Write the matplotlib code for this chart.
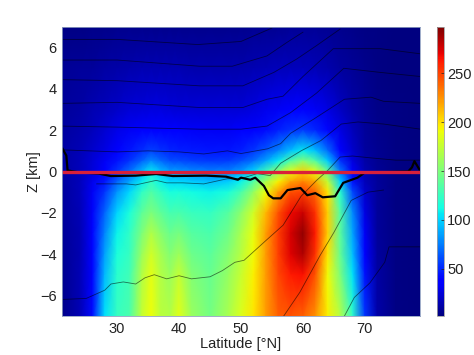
import numpy as np
import matplotlib
matplotlib.use('Agg')
import matplotlib.pyplot as plt

plt.rcParams['font.family'] = ['Liberation Sans', 'DejaVu Sans']

# field: rows = depth, columns = latitude
lat = [21, 24, 26, 28, 30, 32, 34, 35.5, 37, 38.5, 40, 42, 45, 48, 50, 52, 54, 56, 58, 60, 62, 64, 66, 68, 70, 72, 75, 79]
z = [7, 5, 3, 2, 1, 0.5, 0, -0.5, -1, -2, -3, -4, -5, -7]
field = np.array([
    [4, 4, 5, 5, 6, 6, 6, 6, 6, 6, 6, 6, 6, 6, 6, 7, 7, 7, 8, 8, 8, 7, 6, 5, 4, 4, 3, 3],
    [8, 9, 10, 12, 13, 14, 15, 15, 15, 15, 15, 14, 14, 14, 14, 15, 16, 17, 18, 18, 16, 14, 11, 8, 6, 4, 3, 3],
    [10, 12, 15, 18, 21, 24, 26, 27, 27, 26, 25, 25, 25, 25, 25, 27, 30, 33, 35, 36, 33, 28, 20, 13, 8, 5, 4, 3],
    [11, 14, 18, 23, 29, 33, 37, 39, 37, 36, 35, 34, 33, 33, 35, 38, 42, 48, 53, 56, 50, 41, 28, 17, 9, 6, 4, 3],
    [12, 16, 22, 28, 37, 45, 52, 58, 53, 50, 48, 46, 45, 45, 48, 55, 65, 78, 95, 108, 95, 70, 40, 22, 11, 7, 4, 3],
    [12, 17, 24, 32, 44, 55, 68, 80, 70, 63, 61, 58, 56, 57, 62, 72, 88, 108, 135, 155, 135, 98, 55, 27, 13, 7, 4, 3],
    [12, 18, 26, 38, 55, 72, 92, 108, 95, 86, 84, 80, 76, 78, 85, 102, 128, 158, 188, 205, 188, 142, 75, 34, 15, 8, 4, 3],
    [11, 18, 30, 45, 68, 88, 108, 122, 110, 102, 102, 98, 94, 98, 110, 135, 165, 195, 220, 230, 218, 175, 100, 45, 18, 9, 4, 3],
    [10, 17, 32, 55, 82, 102, 122, 134, 124, 114, 116, 112, 110, 116, 132, 158, 190, 222, 245, 250, 238, 198, 120, 60, 22, 9, 4, 3],
    [9, 16, 34, 68, 100, 115, 138, 150, 140, 130, 132, 126, 124, 136, 156, 180, 212, 245, 268, 278, 255, 205, 135, 80, 28, 10, 4, 3],
    [8, 15, 35, 78, 110, 122, 150, 168, 155, 143, 148, 136, 132, 146, 166, 188, 220, 250, 275, 292, 262, 205, 138, 88, 32, 10, 4, 3],
    [7, 15, 36, 85, 115, 125, 160, 180, 165, 152, 162, 144, 137, 153, 171, 192, 222, 250, 272, 285, 255, 198, 142, 95, 38, 11, 4, 3],
    [6, 16, 38, 92, 120, 128, 168, 187, 170, 160, 176, 152, 142, 159, 177, 195, 222, 248, 262, 265, 245, 192, 150, 105, 44, 12, 4, 3],
    [5, 16, 42, 104, 125, 132, 176, 190, 172, 168, 186, 160, 147, 166, 183, 198, 222, 240, 245, 240, 225, 195, 170, 122, 55, 13, 4, 3],
], dtype=float)

# thin contour lines, (latitude, depth) pairs
c1_lat = [21, 25, 28, 29, 31, 33, 34.5, 36, 38, 40, 42, 45, 47, 49, 50.5, 54, 56.8, 59.7, 62.2, 64, 66, 68, 71.3, 75, 79]
c1_z = [-6.2, -6.15, -5.75, -5.45, -5.35, -5.45, -5.15, -5.0, -5.2, -5.05, -5.2, -5.1, -4.8, -4.4, -4.3, -3.35, -2.6, -1.2, -0.43, 0.05, 0.7, 0.75, 0.65, 0.55, 0.55]
c2_lat = [26.7, 31.5, 33, 36.3, 38, 40.6, 44, 47.8, 50, 52.6, 54.7, 56.4, 59.7, 62.9, 66.2, 68.9, 73, 79]
c2_z = [-0.6, -0.6, -0.65, -0.43, -0.55, -0.55, -0.6, -0.35, -0.35, -0.1, -0.2, 0.4, 1.0, 1.5, 2.3, 2.4, 2.3, 2.05]
c3_lat = [21, 30, 35, 40, 44, 47.8, 50, 54.3, 56.4, 58, 61.8, 66.7, 71, 73, 79]
c3_z = [1.05, 0.95, 1.0, 0.95, 0.85, 1.0, 0.87, 1.1, 1.35, 1.85, 2.55, 3.5, 3.6, 3.4, 3.3]
c4_lat = [21, 30, 43.3, 50, 54.2, 58, 62.2, 66.6, 72.5, 79]
c4_z = [2.2, 2.15, 2.05, 2.05, 2.2, 2.85, 3.8, 5.0, 4.8, 4.6]
c5_lat = [21, 30, 43.3, 50.3, 54.2, 56.8, 60, 64.9, 72.5, 79]
c5_z = [3.3, 3.35, 3.1, 3.1, 3.5, 3.65, 4.6, 5.95, 5.95, 5.7]
c6_lat = [21, 30, 43.3, 50.3, 55.3, 59, 62.2, 66]
c6_z = [4.45, 4.4, 4.15, 4.15, 4.8, 5.45, 6.1, 6.9]
c7_lat = [21, 30, 43.3, 48.6, 54.2, 57.4, 60]
c7_z = [5.4, 5.4, 5.1, 5.1, 5.6, 6.25, 6.75]
c8_lat = [21, 30, 43, 50, 55]
c8_z = [6.4, 6.4, 6.15, 6.3, 6.95]
c9_lat = [56.9, 59.5, 62.8, 65, 67.8, 70.5, 73]
c9_z = [-7, -5.85, -4.05, -2.95, -1.4, -1.0, -0.9]
c10_lat = [66.7, 68.3, 70.8, 73.2, 73.9, 79]
c10_z = [-7, -6.1, -5.4, -4.4, -3.65, -3.65]
contours = [(c1_lat, c1_z), (c2_lat, c2_z), (c3_lat, c3_z), (c4_lat, c4_z), (c5_lat, c5_z),
            (c6_lat, c6_z), (c7_lat, c7_z), (c8_lat, c8_z), (c9_lat, c9_z), (c10_lat, c10_z)]

# thick black line
thick_lat = [21.2, 21.8, 22, 24, 27, 29, 33, 36.3, 39, 44.4, 47.6, 49.5, 50, 51.5, 52.3, 53.7, 54.5, 55.2, 56.4, 57.5,
             59.6, 60.7, 62, 63.2, 65.2, 66.5, 68.8, 70, 73, 77, 77.6, 78, 78.4, 78.8]
thick_z = [1.1, 0.77, 0.05, -0.05, -0.1, -0.22, -0.2, -0.12, -0.22, -0.2, -0.25, -0.4, -0.3, -0.4, -0.3, -0.7, -1.15, -1.3, -1.3, -0.9,
           -0.8, -1.15, -1.05, -1.25, -1.2, -0.55, -0.3, -0.05, -0.03, 0, 0.2, 0.5, 0.3, 0.1]

x_ticks = [30, 40, 50, 60, 70]
y_ticks = [-6, -4, -2, 0, 2, 4, 6]
cb_ticks = [50, 100, 150, 200, 250]

fig = plt.figure(figsize=(4.74, 3.55), dpi=100)
ax = fig.add_axes([62/474, 1 - 316/355, 358/474, 289/355])

mesh = ax.pcolormesh(lat, z, field, shading='gouraud', cmap='jet', vmin=2, vmax=297, rasterized=True)
for cx, cz in contours:
    ax.plot(cx, cz, color='black', lw=0.6, alpha=0.55)
ax.plot(thick_lat, thick_z, color='black', lw=1.6)
ax.axhline(0, color='#d9203a', lw=2.4)

ax.set_xlim(21.1, 78.9)
ax.set_ylim(-7, 7)
ax.set_xticks(x_ticks)
ax.set_yticks(y_ticks)
ax.tick_params(labelsize=10.5, length=0, pad=4, colors='#222222')
ax.set_xlabel('Latitude [°N]', fontsize=10.5, labelpad=1, color='#222222')
ax.set_ylabel('Z [km]', fontsize=10.5, color='#222222')
ax.yaxis.set_label_coords(-0.059, 0.5)
for s in ax.spines.values():
    s.set_color('#8f9fc0')
    s.set_linewidth(0.6)

cax = fig.add_axes([437/474, 1 - 316/355, 7.5/474, 289/355])
cb = fig.colorbar(mesh, cax=cax)
cb.set_ticks(cb_ticks)
cax.tick_params(labelsize=10.5, direction='in', length=2, width=0.5, pad=2, colors='#222222')
cb.outline.set_edgecolor('#a0a0a0')
cb.outline.set_linewidth(0.6)

fig.savefig('out.png', dpi=100)
